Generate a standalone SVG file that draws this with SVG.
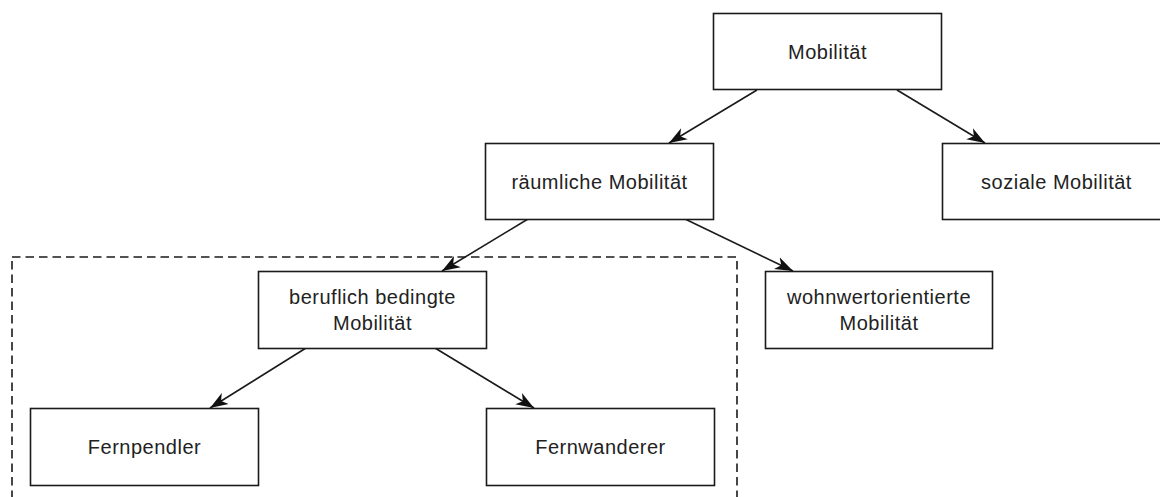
<svg xmlns="http://www.w3.org/2000/svg" width="1160" height="497" viewBox="0 0 1160 497">
  <style>
    .box { fill: #ffffff; stroke: #1a1a1a; stroke-width: 1.6; }
    .lbl { font-family: "Liberation Sans", Arial, sans-serif; font-size: 20px; letter-spacing: 0.5px; fill: #222222; text-anchor: middle; }
    .edge { fill: none; stroke: #1a1a1a; stroke-width: 1.6; marker-end: url(#arrow); }
    .group { fill: none; stroke: #1a1a1a; stroke-width: 1.6; stroke-dasharray: 8.5 5; }
  </style>
  <defs>
    <marker id="arrow" markerUnits="userSpaceOnUse" viewBox="0 0 19 14" refX="18" refY="7" markerWidth="19" markerHeight="14" orient="auto">
      <path d="M18,7 L0,0.5 L5,7 L0,13.5 Z" fill="#111111"/>
    </marker>
  </defs>

  <rect width="1160" height="497" fill="#ffffff"/>

  <!-- dashed grouping frame around the job-related branch -->
  <rect class="group" x="12" y="257" width="725" height="260"/>

  <g id="connectors">
    <line class="edge" x1="757" y1="90" x2="669" y2="143"/>
    <line class="edge" x1="897" y1="90" x2="985" y2="143"/>
    <line class="edge" x1="528" y1="219" x2="442" y2="271"/>
    <line class="edge" x1="685" y1="219" x2="793" y2="271"/>
    <line class="edge" x1="306" y1="348" x2="210" y2="408"/>
    <line class="edge" x1="435" y1="348" x2="534" y2="408"/>
  </g>

  <g id="mobilitaet">
    <rect class="box" x="713.5" y="13.5" width="228" height="76"/>
    <text class="lbl" x="827.5" y="59">Mobilität</text>
  </g>

  <g id="raeumliche">
    <rect class="box" x="485.5" y="143.5" width="228" height="76"/>
    <text class="lbl" x="599.5" y="189">räumliche Mobilität</text>
  </g>

  <g id="soziale">
    <rect class="box" x="942.5" y="143.5" width="228" height="76"/>
    <text class="lbl" x="1056.5" y="189">soziale Mobilität</text>
  </g>

  <g id="beruflich">
    <rect class="box" x="258.5" y="271.5" width="228" height="77"/>
    <text class="lbl" x="372.5" y="304">beruflich bedingte</text>
    <text class="lbl" x="372.5" y="330">Mobilität</text>
  </g>

  <g id="wohnwert">
    <rect class="box" x="765.5" y="271.5" width="227" height="77"/>
    <text class="lbl" x="879" y="304">wohnwertorientierte</text>
    <text class="lbl" x="879" y="330">Mobilität</text>
  </g>

  <g id="fernpendler">
    <rect class="box" x="30.5" y="408.5" width="228" height="77"/>
    <text class="lbl" x="144.5" y="454">Fernpendler</text>
  </g>

  <g id="fernwanderer">
    <rect class="box" x="486.5" y="408.5" width="228" height="77"/>
    <text class="lbl" x="600.5" y="454">Fernwanderer</text>
  </g>
</svg>
